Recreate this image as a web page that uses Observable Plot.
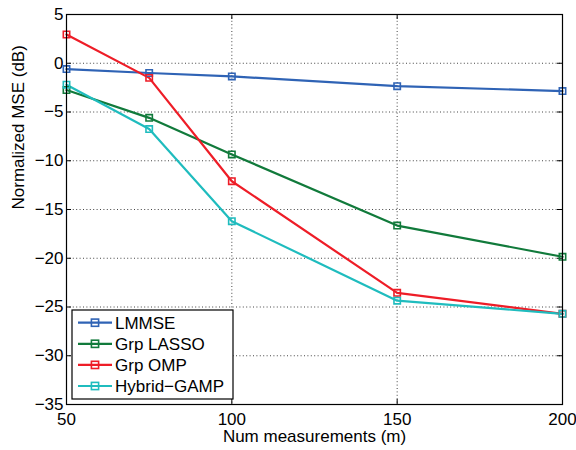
<!DOCTYPE html>
<html>
<head>
<meta charset="utf-8">
<script src="https://cdn.jsdelivr.net/npm/d3@7"></script>
<script src="https://cdn.jsdelivr.net/npm/@observablehq/plot@0.6"></script>
<style>
  html, body { margin: 0; padding: 0; background: white; }
  #chart { width: 576px; height: 450px; }
</style>
</head>
<body>
<div id="chart"></div>
<script>
const measurements = [50, 75, 100, 150, 200];
const seriesNames = ["LMMSE", "Grp LASSO", "Grp OMP", "Hybrid\u2212GAMP"];
const lmmse = [-0.6, -1.0, -1.35, -2.35, -2.85];
const grpLasso = [-2.75, -5.6, -9.35, -16.65, -19.85];
const grpOmp = [2.95, -1.5, -12.1, -23.55, -25.7];
const hybridGamp = [-2.2, -6.75, -16.2, -24.35, -25.7];
const seriesColors = ["#2f63b5", "#117a3b", "#ee1d27", "#1fbcbe"];
const xTicks = [50, 100, 150, 200];
const yTicks = [-35, -30, -25, -20, -15, -10, -5, 0, 5];
const xLabel = "Num measurements (m)";
const yLabel = "Normalized MSE (dB)";

const allSeries = [lmmse, grpLasso, grpOmp, hybridGamp];
const rows = [];
allSeries.forEach((vals, i) => {
  vals.forEach((v, j) => rows.push({series: seriesNames[i], m: measurements[j], mse: v}));
});

const W = 576, H = 450;
const mL = 66, mR = 14, mT = 14, mB = 46;
const innerW = W - mL - mR, innerH = H - mT - mB;
const font = "'Liberation Sans', Arial, Helvetica, sans-serif";

const chart = Plot.plot({
  width: W, height: H,
  marginLeft: mL, marginRight: mR, marginTop: mT, marginBottom: mB,
  style: {fontFamily: font, fontSize: "17px", background: "white", color: "black", overflow: "visible"},
  x: {type: "linear", domain: [50, 200]},
  y: {type: "linear", domain: [-35, 5]},
  color: {domain: seriesNames, range: seriesColors},
  marks: [
    Plot.gridX(xTicks.slice(1, -1), {stroke: "#444", strokeOpacity: 1, strokeWidth: 1, strokeDasharray: "1,2.4"}),
    Plot.gridY(yTicks.slice(1, -1), {stroke: "#444", strokeOpacity: 1, strokeWidth: 1, strokeDasharray: "1,2.4"}),
    Plot.tickY(yTicks, {y: d => d, stroke: "black", insetRight: innerW - 5}),
    Plot.tickY(yTicks, {y: d => d, stroke: "black", insetLeft: innerW - 5}),
    Plot.tickX(xTicks, {x: d => d, stroke: "black", insetTop: innerH - 5}),
    Plot.tickX(xTicks, {x: d => d, stroke: "black", insetBottom: innerH - 5}),
    Plot.axisX(xTicks, {tickSize: 0, tickPadding: 8, label: null, fontSize: 17}),
    Plot.axisY(yTicks, {tickSize: 0, tickPadding: 3, label: null, fontSize: 17}),
    Plot.text([xLabel], {frameAnchor: "bottom", dy: 32, fontSize: 17, lineAnchor: "middle"}),
    Plot.text([yLabel], {frameAnchor: "left", dx: -48, rotate: -90, fontSize: 17, lineAnchor: "middle"}),
    Plot.line(rows, {x: "m", y: "mse", z: "series", stroke: "series", strokeWidth: 2.2}),
    Plot.dot(rows, {x: "m", y: "mse", stroke: "series", symbol: "square", r: 3.6, strokeWidth: 1.6, fill: "none"}),
    Plot.frame({stroke: "black", strokeWidth: 1.2})
  ]
});

document.getElementById("chart").appendChild(chart);

// Legend (inside the plot area, lower left)
const svg = d3.select(chart);
const lg = svg.append("g").attr("font-family", font).attr("font-size", 17).attr("text-anchor", "start");
lg.append("rect").attr("x", 72).attr("y", 310).attr("width", 161).attr("height", 89)
  .attr("fill", "white").attr("stroke", "black").attr("stroke-width", 1.2);
seriesNames.forEach((name, i) => {
  const yy = 322.7 + i * 21.1;
  lg.append("line").attr("x1", 78).attr("x2", 112).attr("y1", yy).attr("y2", yy)
    .attr("stroke", seriesColors[i]).attr("stroke-width", 2.2);
  lg.append("rect").attr("x", 95 - 3.6).attr("y", yy - 3.6).attr("width", 7.2).attr("height", 7.2)
    .attr("fill", "none").attr("stroke", seriesColors[i]).attr("stroke-width", 1.6);
  lg.append("text").attr("x", 115).attr("y", yy).attr("dy", "0.36em")
    .attr("text-anchor", "start").attr("fill", "black").text(name);
});
</script>
</body>
</html>
